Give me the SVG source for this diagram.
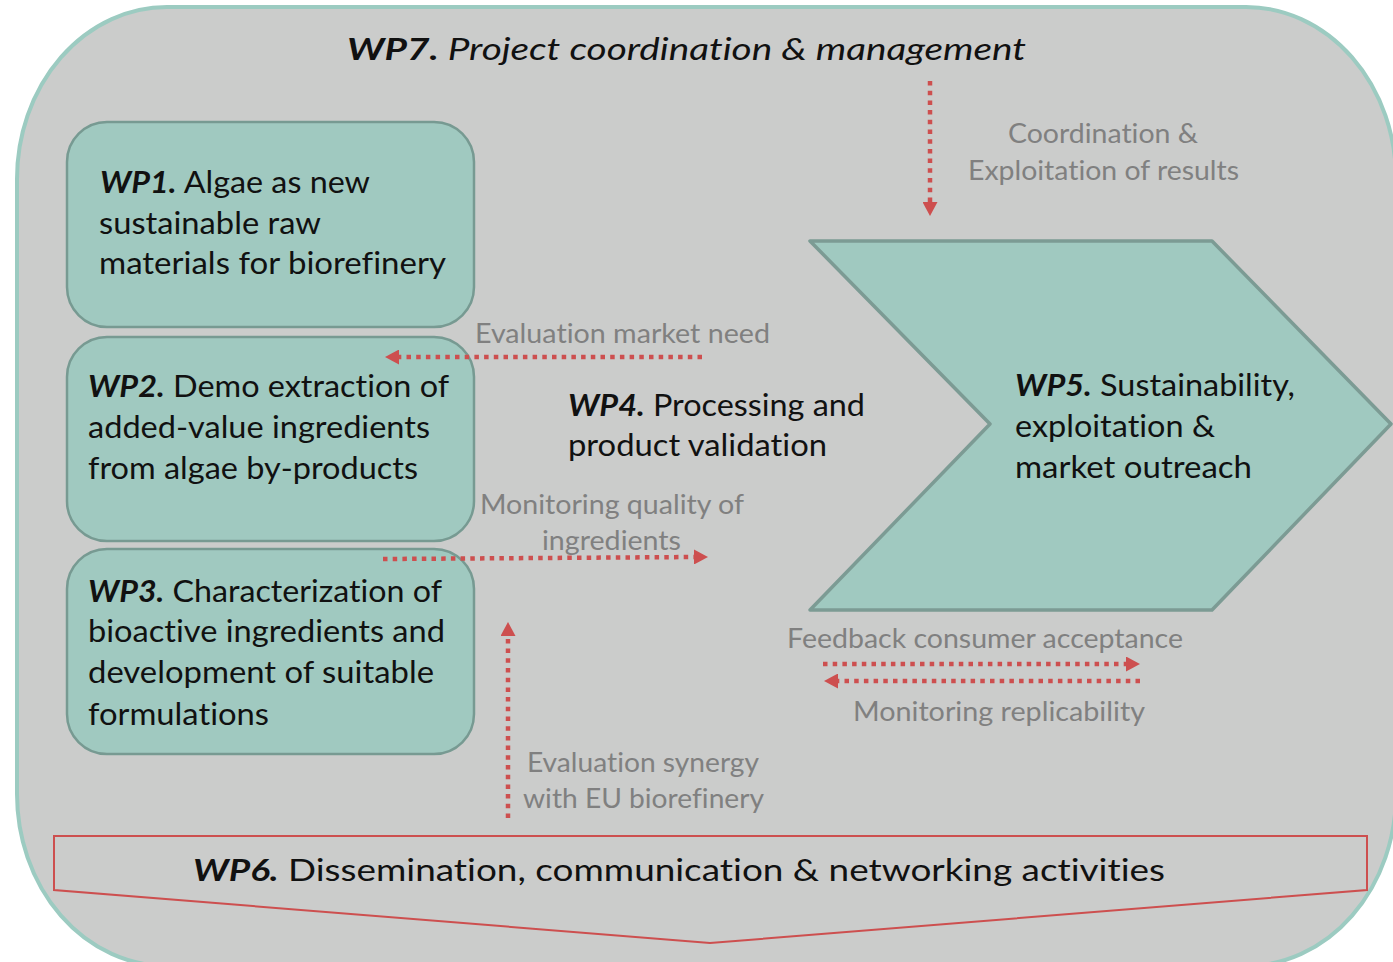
<svg xmlns="http://www.w3.org/2000/svg" width="1393" height="962" viewBox="0 0 1393 962">
<style>
.box{fill:#A0C9C0;stroke:#779A92;stroke-width:2.5}
.t{font-family:Lato,"Open Sans",sans-serif;fill:#111;font-size:30px;font-variant-ligatures:none}
.g{font-family:Lato,"Open Sans",sans-serif;fill:#808080;font-size:26px;font-variant-ligatures:none}
.b{font-weight:bold;font-style:italic}
.i{font-style:italic}
.ar{stroke:#CD4F4F;stroke-width:4.5;stroke-dasharray:4.5 5.2;fill:none}
</style>
<defs>
<marker id="ah" viewBox="0 0 14 15" refX="0" refY="7.5" markerWidth="14" markerHeight="15" markerUnits="userSpaceOnUse" orient="auto">
<path d="M0,0 L14,7.5 L0,15 z" fill="#CD4F4F"/>
</marker>
</defs>
<rect width="1393" height="962" fill="#ffffff"/>
<g id="wp7">
<rect x="17" y="7" width="1379" height="959" rx="150" ry="172" fill="#CBCCCB" stroke="#9CCBC1" stroke-width="4"/>
<text class="t i" x="347" y="60" font-size="32" textLength="679" lengthAdjust="spacingAndGlyphs"><tspan class="b">WP7.</tspan> Project coordination &amp; management</text>
</g>
<g id="wp1">
<rect class="box" x="67" y="122" width="407" height="205" rx="40"/>
<text class="t" x="100" y="193" textLength="270" lengthAdjust="spacingAndGlyphs"><tspan class="b">WP1.</tspan> Algae as new</text>
<text class="t" x="99" y="234" textLength="222" lengthAdjust="spacingAndGlyphs">sustainable raw</text>
<text class="t" x="99" y="274" textLength="347" lengthAdjust="spacingAndGlyphs">materials for biorefinery</text>
</g>
<g id="wp2">
<rect class="box" x="67" y="337" width="407" height="204" rx="40"/>
<text class="t" x="88" y="397" textLength="361" lengthAdjust="spacingAndGlyphs"><tspan class="b">WP2.</tspan> Demo extraction of</text>
<text class="t" x="88" y="438" textLength="342" lengthAdjust="spacingAndGlyphs">added-value ingredients</text>
<text class="t" x="88" y="479" textLength="330" lengthAdjust="spacingAndGlyphs">from algae by-products</text>
</g>
<g id="wp3">
<rect class="box" x="67" y="549" width="407" height="205" rx="40"/>
<text class="t" x="88" y="602" textLength="354" lengthAdjust="spacingAndGlyphs"><tspan class="b">WP3.</tspan> Characterization of</text>
<text class="t" x="88" y="642" textLength="357" lengthAdjust="spacingAndGlyphs">bioactive ingredients and</text>
<text class="t" x="88" y="683" textLength="346" lengthAdjust="spacingAndGlyphs">development of suitable</text>
<text class="t" x="88" y="725" textLength="181" lengthAdjust="spacingAndGlyphs">formulations</text>
</g>
<g id="wp4">
<text class="t" x="568" y="416" textLength="297" lengthAdjust="spacingAndGlyphs"><tspan class="b">WP4.</tspan> Processing and</text>
<text class="t" x="568" y="456" textLength="259" lengthAdjust="spacingAndGlyphs">product validation</text>
</g>
<g id="wp5">
<polygon points="810,241 1212,241 1391,424 1212,610 810,610 990,424" fill="#A0C9C0" stroke="#7C9B94" stroke-width="3.5" stroke-linejoin="round"/>
<text class="t" x="1015" y="396" textLength="280" lengthAdjust="spacingAndGlyphs"><tspan class="b">WP5.</tspan> Sustainability,</text>
<text class="t" x="1015" y="437" textLength="200" lengthAdjust="spacingAndGlyphs">exploitation &amp;</text>
<text class="t" x="1015" y="478" textLength="237" lengthAdjust="spacingAndGlyphs">market outreach</text>
</g>
<g id="wp6">
<polygon points="54,836 1367,836 1367,890 710,943 54,890" fill="none" stroke="#CD4F4F" stroke-width="2"/>
<text class="t" x="193" y="881" font-size="32" textLength="972" lengthAdjust="spacingAndGlyphs"><tspan class="b">WP6.</tspan> Dissemination, communication &amp; networking activities</text>
</g>
<g id="connectors">
<line class="ar" x1="930" y1="81" x2="930" y2="202" marker-end="url(#ah)"/>
<line class="ar" x1="702" y1="357" x2="399" y2="357" marker-end="url(#ah)"/>
<line class="ar" x1="383" y1="559" x2="694" y2="557" marker-end="url(#ah)"/>
<line class="ar" x1="508" y1="818" x2="508" y2="636" marker-end="url(#ah)"/>
<line class="ar" x1="823" y1="664" x2="1126" y2="664" marker-end="url(#ah)"/>
<line class="ar" x1="1140" y1="681" x2="838" y2="681" marker-end="url(#ah)"/>
</g>
<g id="labels">
<text class="g" x="1008" y="143" textLength="190" lengthAdjust="spacingAndGlyphs">Coordination &amp;</text>
<text class="g" x="968" y="180" textLength="271" lengthAdjust="spacingAndGlyphs">Exploitation of results</text>
<text class="g" x="475" y="343" textLength="295" lengthAdjust="spacingAndGlyphs">Evaluation market need</text>
<text class="g" x="480" y="514" textLength="264" lengthAdjust="spacingAndGlyphs">Monitoring quality of</text>
<text class="g" x="542" y="550" textLength="139" lengthAdjust="spacingAndGlyphs">ingredients</text>
<text class="g" x="787" y="648" textLength="396" lengthAdjust="spacingAndGlyphs">Feedback consumer acceptance</text>
<text class="g" x="853" y="721" textLength="292" lengthAdjust="spacingAndGlyphs">Monitoring replicability</text>
<text class="g" x="527" y="772" textLength="232" lengthAdjust="spacingAndGlyphs">Evaluation synergy</text>
<text class="g" x="523" y="808" textLength="241" lengthAdjust="spacingAndGlyphs">with EU biorefinery</text>
</g>
</svg>
